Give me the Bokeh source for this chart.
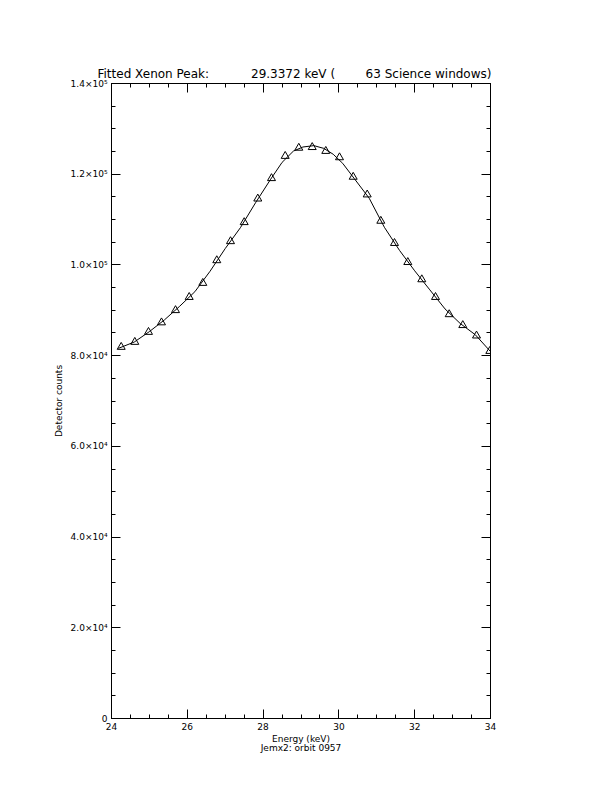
from bokeh.plotting import figure
from bokeh.models import (LinearAxis, SingleIntervalTicker, Range1d, Title,
                          CustomLabelingPolicy)
from bokeh.embed import file_html
from bokeh.resources import INLINE

# ---- data ----
energy = [24.256, 24.615, 24.976, 25.319, 25.689, 26.050, 26.409, 26.778,
          27.140, 27.501, 27.860, 28.222, 28.583, 28.942, 29.296, 29.654,
          30.016, 30.377, 30.747, 31.106, 31.467, 31.818, 32.187, 32.549,
          32.910, 33.269, 33.631, 33.982]
counts = [81900, 83000, 85200, 87300, 90000, 92900, 96000, 101000,
          105200, 109400, 114600, 119100, 124000, 125800, 125950, 125100,
          123700, 119400, 115500, 109700, 104800, 100600, 96800, 92900,
          89100, 86700, 84400, 81000]

# fitted curve
fit_energy = [24.18, 24.6, 25.0, 25.4, 25.8, 26.2, 26.6, 27.0, 27.4, 27.8,
              28.2, 28.5, 28.8, 29.05, 29.34, 29.6, 29.85, 30.1, 30.4, 30.8,
              31.2, 31.6, 32.0, 32.4, 32.8, 33.2, 33.6, 34.0]
fit_counts = [81600, 83000, 85300, 87900, 90900, 94100, 98600, 103600,
              108200, 113700, 118900, 122600, 125100, 126000, 126300,
              125700, 124400, 122400, 119100, 114700, 108300, 103200,
              98700, 94500, 90300, 87100, 84600, 80900]

NB = "\u00a0"
title_text = ("Fitted Xenon Peak:" + NB * 11 + "29.3372 keV (" + NB * 8
              + "63 Science windows)")
x_label = "Energy (keV)\nJemx2: orbit 0957"
y_label = "Detector counts"
y_tick_labels = {0: "0", 20000: "2.0×10⁴", 40000: "4.0×10⁴", 60000: "6.0×10⁴",
                 80000: "8.0×10⁴", 100000: "1.0×10⁵", 120000: "1.2×10⁵",
                 140000: "1.4×10⁵"}

FONT = "DejaVu Sans"

p = figure(width=604, height=784, output_backend="svg", toolbar_location=None,
           x_range=Range1d(24, 34), y_range=Range1d(0, 140000),
           x_axis_type=None, y_axis_type=None,
           min_border_left=111, min_border_right=114,
           min_border_top=83, min_border_bottom=66)
p.xgrid.visible = False
p.ygrid.visible = False
p.outline_line_color = "black"
p.outline_line_width = 1
p.background_fill_color = "white"
p.border_fill_color = "white"


def style_axis(ax, labels=True):
    ax.axis_line_color = "black"
    ax.major_tick_in = 9
    ax.major_tick_out = 0
    ax.minor_tick_in = 4
    ax.minor_tick_out = 0
    ax.major_tick_line_color = "black"
    ax.minor_tick_line_color = "black"
    ax.major_label_text_font = FONT
    ax.major_label_text_font_size = "9px"
    ax.major_label_text_color = "black"
    ax.axis_label_text_font = FONT
    ax.axis_label_text_font_size = "9px"
    ax.axis_label_text_font_style = "normal"
    ax.axis_label_text_color = "black"
    if not labels:
        ax.major_label_policy = CustomLabelingPolicy(code="return new Set()")
        ax.major_label_standoff = 0


xt = lambda: SingleIntervalTicker(interval=2, num_minor_ticks=4)
yt = lambda: SingleIntervalTicker(interval=20000, num_minor_ticks=4)

xb = LinearAxis(ticker=xt(), axis_label=x_label)
style_axis(xb)
xb.major_label_standoff = 4
xb.axis_label_standoff = 1
xb.axis_label_text_line_height = 0.9
p.add_layout(xb, "below")

xa = LinearAxis(ticker=xt())
style_axis(xa, labels=False)
p.add_layout(xa, "above")

yl = LinearAxis(ticker=yt(), axis_label=y_label)
style_axis(yl)
yl.major_label_overrides = y_tick_labels
yl.major_label_standoff = 4
yl.axis_label_standoff = 4
p.add_layout(yl, "left")

yr = LinearAxis(ticker=yt())
style_axis(yr, labels=False)
p.add_layout(yr, "right")

p.line(fit_energy, fit_counts, line_color="black", line_width=1)
p.scatter(energy, counts, marker="triangle", size=8, fill_color=None,
          line_color="black", line_width=1)

title = Title(text=title_text, align="left", offset=-14, standoff=-14,
              text_font=FONT, text_font_size="12px", text_font_style="normal",
              text_color="black")
p.add_layout(title, "above")

open("out.html", "w").write(file_html(p, INLINE))
